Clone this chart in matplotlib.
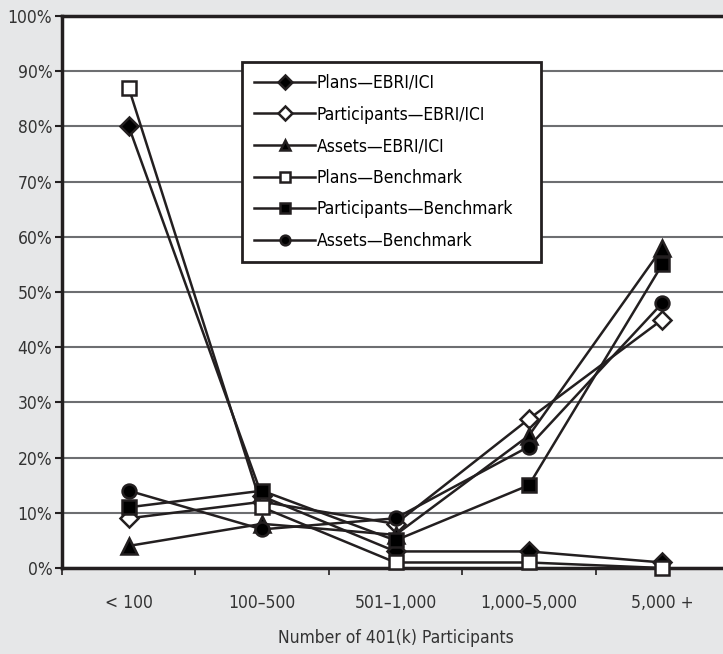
import matplotlib.pyplot as plt
from matplotlib.ticker import FixedLocator, PercentFormatter

plt.rcParams['font.family'] = ['DejaVu Sans Condensed', 'Liberation Sans Narrow', 'DejaVu Sans']
plt.rcParams['font.stretch'] = 'condensed'

# ==========================
# DATA
# ==========================

categories = ["< 100", "100\u2013500", "501\u20131,000", "1,000\u20135,000", "5,000 +"]

plans_ebri = [80, 13, 3, 3, 1]
participants_ebri = [9, 12, 8, 27, 45]
assets_ebri = [4, 8, 6, 24, 58]
plans_bench = [87, 11, 1, 1, 0]
participants_bench = [11, 14, 5, 15, 55]
assets_bench = [14, 7, 9, 22, 48]

series = [
    ("Plans\u2014EBRI/ICI", plans_ebri, "D", "black", 9),
    ("Participants\u2014EBRI/ICI", participants_ebri, "D", "white", 9),
    ("Assets\u2014EBRI/ICI", assets_ebri, "^", "black", 11),
    ("Plans\u2014Benchmark", plans_bench, "s", "white", 10),
    ("Participants\u2014Benchmark", participants_bench, "s", "black", 10),
    ("Assets\u2014Benchmark", assets_bench, "o", "black", 10),
]

# ==========================
# CHART
# ==========================

bg = "#e6e7e8"
fig = plt.figure(figsize=(7.23, 6.54), dpi=100, facecolor=bg)
ax = fig.add_axes([62 / 723, 86 / 654, 667 / 723, 552 / 654])
ax.set_facecolor("white")

x = list(range(len(categories)))
for label, vals, marker, face, size in series:
    ax.plot(x, vals, color="#231f20", lw=1.8, marker=marker, markersize=size,
            markerfacecolor=face, markeredgecolor="#231f20", markeredgewidth=1.8,
            label=label, clip_on=False, zorder=3)

ax.set_xlim(-0.5, len(categories) - 0.5)
ax.set_ylim(0, 100)
ax.set_yticks(range(0, 101, 10))
ax.yaxis.set_major_formatter(PercentFormatter(decimals=0))
ax.grid(axis="y", color="#6d6e71", lw=1.5)
ax.set_axisbelow(True)

ax.set_xticks(x)
ax.set_xticklabels(categories)
ax.xaxis.set_minor_locator(FixedLocator([i + 0.5 for i in range(-1, len(categories))]))
ax.tick_params(axis="x", which="major", length=0, pad=19, labelsize=12.5, labelcolor="#333333")
ax.tick_params(axis="x", which="minor", length=5, width=1.2, color="#231f20")
ax.tick_params(axis="y", length=5, width=1.5, color="#231f20", labelsize=12.5,
               labelcolor="#333333", pad=2)

for side in ["left", "bottom", "top", "right"]:
    ax.spines[side].set_color("#231f20")
    ax.spines[side].set_linewidth(2.5)

ax.set_xlabel("Number of 401(k) Participants", fontsize=12.5, color="#333333", labelpad=12)

leg = ax.legend(loc="upper left", bbox_to_anchor=(0.27, 0.917, 0.448, 0), mode="expand",
                fontsize=12.5, handlelength=3.5, handletextpad=0.1, labelspacing=0.78,
                borderpad=0.7, borderaxespad=0, fancybox=False, framealpha=1,
                edgecolor="#231f20")
leg.get_frame().set_linewidth(2)
for h in leg.legend_handles:
    h.set_markersize(7)

plt.savefig("out.png", dpi=100, facecolor=bg)
